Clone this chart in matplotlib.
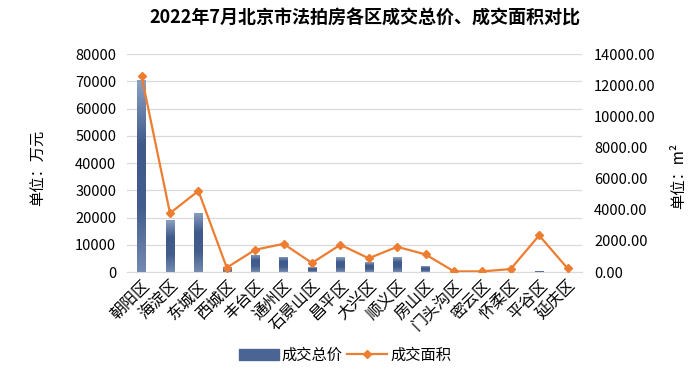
import numpy as np
import matplotlib.pyplot as plt
from matplotlib.colors import LinearSegmentedColormap
from matplotlib.lines import Line2D
from matplotlib.patches import Patch

plt.rcParams['font.family'] = ['Noto Sans CJK SC', 'DejaVu Sans']

districts = ['朝阳区', '海淀区', '东城区', '西城区', '丰台区', '通州区', '石景山区', '昌平区',
             '大兴区', '顺义区', '房山区', '门头沟区', '密云区', '怀柔区', '平谷区', '延庆区']
total_price = [70400, 19000, 21800, 2000, 6300, 5600, 1800, 5400,
               3500, 5400, 2200, 60, 50, 100, 400, 80]
total_area = [12570, 3780, 5210, 280, 1430, 1810, 580, 1750,
              880, 1620, 1130, 40, 40, 190, 2350, 240]

fig = plt.figure(figsize=(7, 3.79), dpi=100)
ax1 = fig.add_axes([0.182, 0.2823, 0.649, 0.575])
ax2 = ax1.twinx()

x = np.arange(len(districts))
bars = ax1.bar(x, total_price, width=0.29, color='none', zorder=2)

# gradient fill for the bars: lighter at the top, dark in the body
cmap = LinearSegmentedColormap.from_list('bar', ['#7389B0', '#435E8D', '#3F5A8A', '#8A9FC2'])
grad = np.linspace(0, 1, 100).reshape(-1, 1)
for b in bars:
    bx, bw, bh = b.get_x(), b.get_width(), b.get_height()
    im = ax1.imshow(grad, extent=[bx, bx + bw, 0, bh], origin='lower', aspect='auto',
                    cmap=cmap, zorder=2)
    im.set_clip_path(b)

ax2.plot(x, total_area, color='#ED7D31', lw=1.6, marker='D', ms=4.5, zorder=3)

ax1.set_xlim(-0.5, len(districts) - 0.5)
ax1.set_ylim(0, 80000)
ax1.set_yticks(np.arange(0, 80001, 10000))
ax2.set_ylim(0, 14000)
ax2.set_yticks(np.arange(0, 14001, 2000))
ax2.set_yticklabels([f'{v:.2f}' for v in np.arange(0, 14001, 2000)])

ax1.grid(axis='y', color='#D9D9D9', lw=0.9, zorder=0)
ax1.set_axisbelow(True)
for a in (ax1, ax2):
    for s in a.spines.values():
        s.set_visible(False)
    a.tick_params(length=0, labelsize=10.5, colors='#000000')
ax1.spines['bottom'].set_visible(True)
ax1.spines['bottom'].set_color('#D9D9D9')
ax1.tick_params(axis='y', pad=8)
ax2.tick_params(axis='y', pad=9)

ax1.set_xticks(x)
ax1.set_xticklabels(districts, rotation=45, ha='right', rotation_mode='anchor', fontsize=11.5)

ax1.set_ylabel('单位：万元', fontsize=11)
ax1.yaxis.set_label_coords(-0.177, 0.48)
ax2.set_ylabel('单位：m²', fontsize=11)
ax2.yaxis.set_label_coords(1.195, 0.44)

fig.text(0.521, 0.953, '2022年7月北京市法拍房各区成交总价、成交面积对比',
         ha='center', va='center', fontsize=13, fontweight='bold')

handles = [Patch(color='#4A6494'),
           Line2D([], [], color='#ED7D31', lw=1.6, marker='D', ms=4.5)]
fig.legend(handles, ['成交总价', '成交面积'], loc='center', bbox_to_anchor=(0.493, 0.063),
           ncol=2, frameon=False, fontsize=11, handlelength=2.6, columnspacing=0.3,
           handletextpad=0.2)

fig.savefig('out.png', dpi=100)
